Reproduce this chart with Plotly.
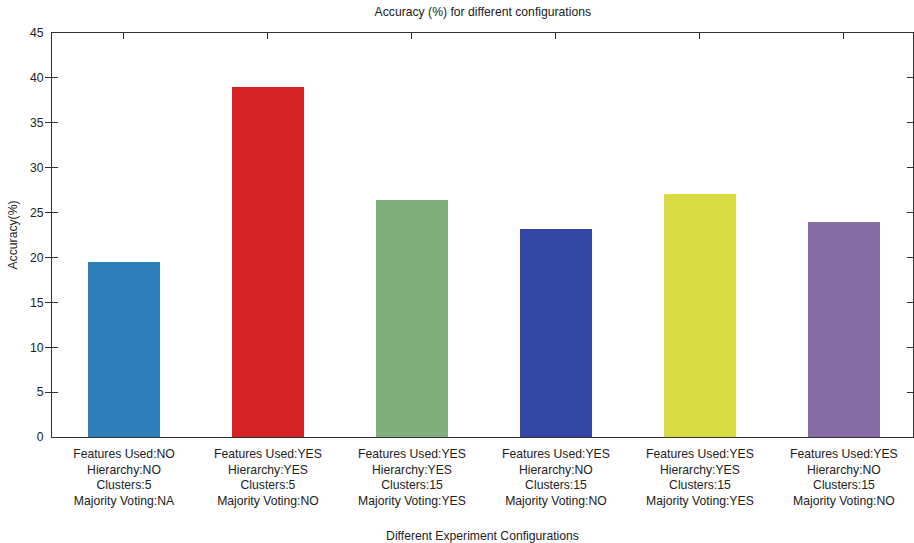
import plotly.graph_objects as go

# Experiment configurations and their measured accuracy
features_used = ["NO", "YES", "YES", "YES", "YES", "YES"]
hierarchy = ["NO", "YES", "YES", "NO", "YES", "NO"]
clusters = ["5", "5", "15", "15", "15", "15"]
majority_voting = ["NA", "NO", "YES", "NO", "YES", "NO"]
accuracy = [19.5, 39.0, 26.4, 23.2, 27.05, 23.95]
bar_colors = ["#2f80ba", "#d62222", "#80ae7d", "#3446a3", "#d9db43", "#856ca4"]

positions = list(range(len(accuracy)))
tick_text = [
    f"Features Used:{f}<br>Hierarchy:{h}<br>Clusters:{c}<br>Majority Voting:{m}"
    for f, h, c, m in zip(features_used, hierarchy, clusters, majority_voting)
]

axis_color = "#333333"
text_color = "#222222"
font_family = "Liberation Sans, Arial, sans-serif"
font_size = 12.2

fig = go.Figure()
fig.add_trace(
    go.Bar(
        x=positions,
        y=accuracy,
        width=0.5,
        marker=dict(color=bar_colors, line=dict(width=0)),
        showlegend=False,
        hoverinfo="y",
    )
)

x_range = [-0.5, 5.48]

fig.update_layout(
    width=914,
    height=543,
    margin=dict(l=52, r=1, t=33, b=106),
    paper_bgcolor="white",
    plot_bgcolor="white",
    font=dict(family=font_family, size=font_size, color=text_color),
    title=dict(
        text="Accuracy (%) for different configurations",
        x=0.5283,
        xanchor="center",
        y=0.978,
        yanchor="middle",
        font=dict(size=font_size, color=text_color),
    ),
    bargap=0,
    xaxis=dict(
        range=x_range,
        tickmode="array",
        tickvals=positions,
        ticktext=tick_text,
        ticks="",
        ticklabelstandoff=5,
        showline=True,
        linecolor=axis_color,
        linewidth=1,
        mirror=True,
        showgrid=False,
        zeroline=False,
        tickfont=dict(size=font_size, color=text_color),
        title=dict(
            text="Different Experiment Configurations",
            font=dict(size=font_size, color=text_color),
            standoff=27,
        ),
        automargin=False,
    ),
    # top-edge category ticks
    xaxis2=dict(
        overlaying="x",
        matches="x",
        side="top",
        range=x_range,
        tickmode="array",
        tickvals=positions,
        ticks="inside",
        ticklen=6,
        tickcolor=axis_color,
        showticklabels=False,
        showline=False,
        showgrid=False,
        zeroline=False,
    ),
    yaxis=dict(
        range=[0, 45],
        tickmode="linear",
        tick0=0,
        dtick=5,
        ticks="inside",
        ticklen=6,
        tickcolor=axis_color,
        ticklabelstandoff=5,
        showline=True,
        linecolor=axis_color,
        linewidth=1,
        mirror="allticks",
        showgrid=False,
        zeroline=False,
        tickfont=dict(size=font_size, color=text_color),
        title=dict(
            text="Accuracy(%)",
            font=dict(size=font_size, color=text_color),
            standoff=9,
        ),
        automargin=False,
    ),
)

# an invisible trace anchors the top axis so its ticks are rendered
fig.add_trace(
    go.Scatter(
        x=[positions[0]],
        y=[0],
        xaxis="x2",
        mode="markers",
        marker=dict(opacity=0),
        showlegend=False,
        hoverinfo="skip",
    )
)

fig.write_html("out.html")
